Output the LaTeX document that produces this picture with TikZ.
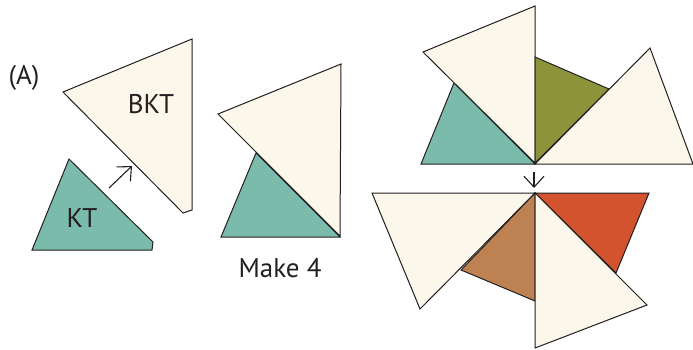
\documentclass[tikz,border=0pt]{standalone}
\usepackage{fontspec}
\setmainfont{PT Sans}
\usetikzlibrary{arrows.meta}
\definecolor{cream}{HTML}{FBF7EA}
\definecolor{teal}{HTML}{7ABBAC}
\definecolor{olive}{HTML}{8B943B}
\definecolor{brownp}{HTML}{BE8152}
\definecolor{redp}{HTML}{D4532F}
\definecolor{ink}{HTML}{231F20}
\tikzset{
  piece/.style={draw=ink, line width=1pt, line join=miter},
  label/.style={text=ink, font=\fontsize{27}{29}\selectfont, inner sep=0pt, anchor=base},
  marker/.style={draw=ink, line width=1.1pt, -{Straight Barb[length=11pt,width=20pt]}}
}
\begin{document}
\begin{tikzpicture}[x=1pt,y=-1pt]
\useasboundingbox (0,0) rectangle (693,349);
% left: separate pieces
\filldraw[piece, fill=cream] (192,39) -- (63,92) -- (183,213) -- (192,210) -- cycle;
\filldraw[piece, fill=teal] (69,159) -- (32,250) -- (152,250) -- (153,242) -- cycle;
\coordinate (a1) at (109,188);
\coordinate (a2) at (132,166);
\draw[marker] (a1) -- (a2);
\node[label] (A) at (24,84) {(A)};
\node[label] (bkt) at (151,113) {BKT};
\node[label] (kt) at (82,227) {KT};
% middle: combined unit
\filldraw[piece, fill=teal] (256,153) -- (221,237) -- (340,237) -- cycle;
\filldraw[piece, fill=cream] (341,64) -- (218,114) -- (340,236) -- cycle;
\node[label] (make) at (280,277) {Make 4};
% right top
\filldraw[piece, fill=teal] (454,83) -- (421,164) -- (535,164) -- cycle;
\filldraw[piece, fill=cream] (535,6) -- (423,52) -- (535,163) -- cycle;
\filldraw[piece, fill=olive] (535,57) -- (609,89) -- (535,163) -- cycle;
\filldraw[piece, fill=cream] (650,48) -- (693,164) -- (535,164) -- cycle;
% down arrow
\coordinate (d1) at (534,172);
\coordinate (d2) at (534,188);
\draw[marker] (d1) -- (d2);
% right bottom
\filldraw[piece, fill=cream] (372,193) -- (535,193) -- (420,309) -- cycle;
\filldraw[piece, fill=brownp] (535,193) -- (461,270) -- (535,301) -- cycle;
\filldraw[piece, fill=redp] (535,193) -- (649,193) -- (616,273) -- cycle;
\filldraw[piece, fill=cream] (535,193) -- (647,305) -- (535,348) -- cycle;
\end{tikzpicture}
\end{document}
